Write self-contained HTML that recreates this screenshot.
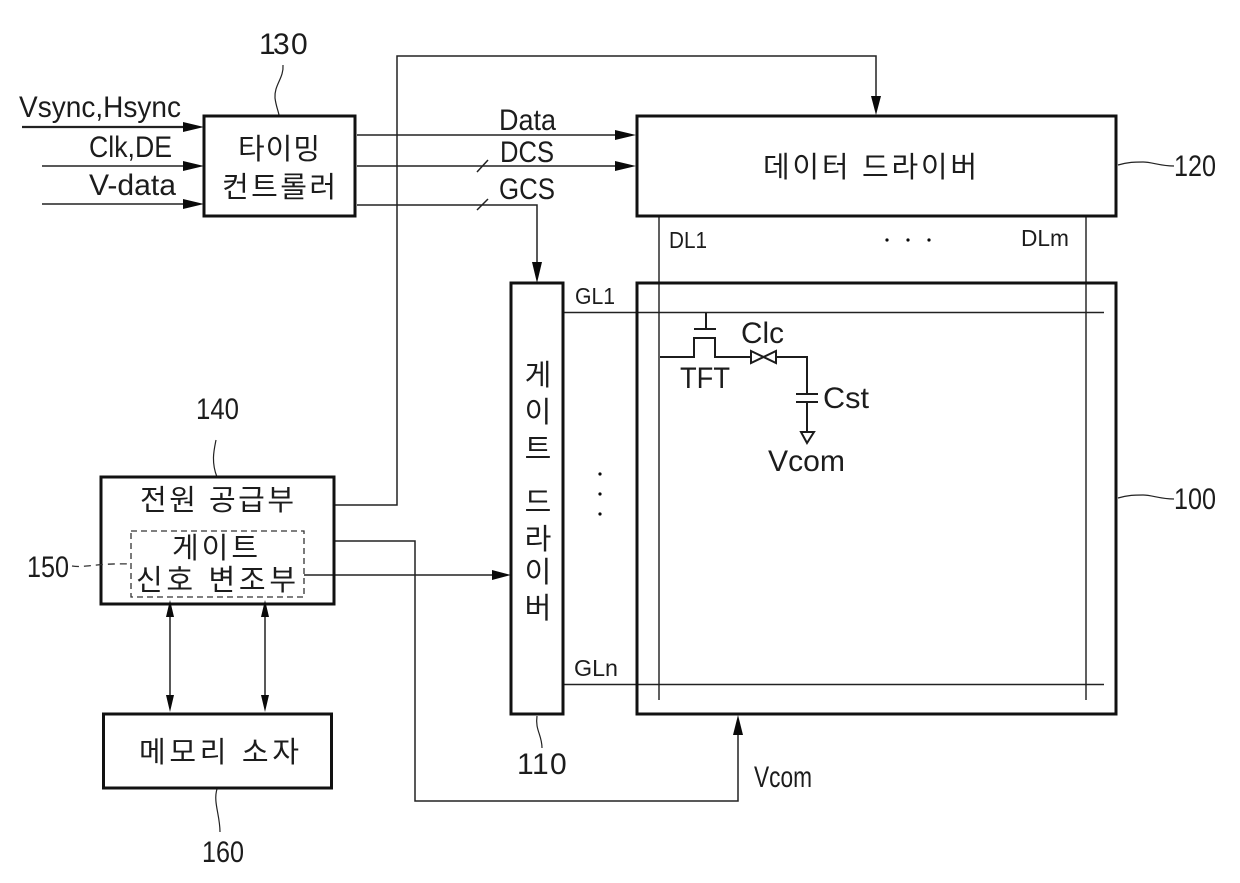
<!DOCTYPE html>
<html><head><meta charset="utf-8"><style>
html,body{margin:0;padding:0;background:#fff}
svg{display:block}
text{font-family:"Liberation Sans","Noto Sans CJK KR",sans-serif;fill:#1c1c1c}
.l{font-size:30px}.s{font-size:23px}.k{font-size:29px}
.c{text-anchor:middle}
</style></head><body>
<svg width="1240" height="883" viewBox="0 0 1240 883" xmlns="http://www.w3.org/2000/svg">
<rect width="1240" height="883" fill="#fff"/>
<g fill="none" stroke="#222" stroke-width="1.5">
<path d="M42 166H190M42 204H190"/>
<path d="M22 127H190" stroke-width="2.2"/>
<path d="M357 135H620M357 166H620M357 205H537V268"/>
<path d="M335 505H397V56H876V100"/>
<path d="M335 541H415V801H738V730"/>
<path d="M304 575H495"/>
<path d="M170 612V698M265 612V698"/>
<path d="M659 216V700M1086 216V700" stroke="#444" stroke-width="1.7"/>
<path d="M563 312.500H1104M563 684.500H1104"/>
<path d="M477 172L488 160M477 210L488 199"/>
<path d="M283 65C284 78 274 85 275 98C276 106 278 110 279 115" stroke-width="1.2"/>
<path d="M216 440C214 450 211 462 217 477" stroke-width="1.2"/>
<path d="M1118 165C1128 162 1135 162 1143 162C1152 162 1160 166 1174 166" stroke-width="1.2"/>
<path d="M1118 498C1128 495 1135 495 1143 495C1152 495 1160 499 1174 499" stroke-width="1.2"/>
<path d="M537 716C535 730 542 735 542 748" stroke-width="1.2"/>
<path d="M217 789C213 802 220 815 220 832" stroke-width="1.2"/>
</g>
<g fill="none" stroke="#111" stroke-width="3">
<rect x="204" y="116" width="151" height="100"/>
<rect x="637" y="116" width="479" height="100"/>
<rect x="511" y="283" width="52" height="431"/>
<rect x="637" y="283" width="479" height="431"/>
<rect x="101" y="477" width="233" height="127"/>
<rect x="103.500" y="714" width="228" height="74"/>
</g>
<g fill="#0a0a0a">
<path d="M204 127l-21-5v10zM204 166l-21-5v10zM204 204l-21-5v10z"/>
<path d="M636 135l-21-5v10zM636 166l-21-5v10z"/>
<path d="M537 283l-5-21h10zM876 115l-5-19h10zM511 575l-19-5v10zM738 715l-5 20h10z"/>
<path d="M170 600l-4 17h8zM170 712l-4-17h8zM265 600l-4 17h8zM265 712l-4-17h8z"/>
<circle cx="887" cy="240" r="1.600"/><circle cx="908" cy="240" r="1.600"/><circle cx="929" cy="240" r="1.600"/>
<circle cx="600" cy="474" r="1.600"/><circle cx="600" cy="494" r="1.600"/><circle cx="600" cy="514" r="1.600"/>
</g>
<rect x="131" y="531" width="173" height="66" fill="none" stroke="#333" stroke-width="1.300" stroke-dasharray="6 4"/>
<path d="M72 566C85 568 95 563 131 564" fill="none" stroke="#333" stroke-width="1.300" stroke-dasharray="7 5"/>
<g fill="none" stroke="#1c1c1c" stroke-width="2">
<path d="M660 357H694V338H715V357H751M776 357H807V394M807 402V431"/>
<path d="M694 329H716M706 329V313"/>
<path d="M751 351L776 363V351L751 363Z"/>
<path d="M796 394H818M796 402H818"/>
<path d="M801 432H814L807 443Z"/>
</g>
<text x="19" y="117" class="l" textLength="162" lengthAdjust="spacingAndGlyphs">Vsync,Hsync</text>
<text x="89" y="157" class="l" textLength="83" lengthAdjust="spacingAndGlyphs">Clk,DE</text>
<text x="89" y="195" class="l" textLength="87" lengthAdjust="spacingAndGlyphs">V-data</text>
<text x="259 273 291" y="54" class="l">130</text>
<text x="499" y="130" class="l" textLength="57" lengthAdjust="spacingAndGlyphs">Data</text>
<text x="500" y="162" class="l" textLength="54" lengthAdjust="spacingAndGlyphs">DCS</text>
<text x="499" y="199" class="l" textLength="56" lengthAdjust="spacingAndGlyphs">GCS</text>
<text x="1174" y="176" class="l" textLength="42" lengthAdjust="spacingAndGlyphs">120</text>
<text x="1174" y="509" class="l" textLength="42" lengthAdjust="spacingAndGlyphs">100</text>
<text x="196" y="419" class="l" textLength="43" lengthAdjust="spacingAndGlyphs">140</text>
<text x="27" y="577" class="l" textLength="42" lengthAdjust="spacingAndGlyphs">150</text>
<text x="517 532 550" y="774" class="l">110</text>
<text x="202" y="862" class="l" textLength="42" lengthAdjust="spacingAndGlyphs">160</text>
<text x="754" y="787" class="l" textLength="58" lengthAdjust="spacingAndGlyphs">Vcom</text>
<text x="741" y="343" class="l" textLength="43" lengthAdjust="spacingAndGlyphs">Clc</text>
<text x="680" y="388" class="l" textLength="50" lengthAdjust="spacingAndGlyphs">TFT</text>
<text x="823" y="408" class="l" textLength="46" lengthAdjust="spacingAndGlyphs">Cst</text>
<text x="768" y="471" class="l" textLength="77" lengthAdjust="spacingAndGlyphs">Vcom</text>
<text class="s" x="669" y="248" textLength="38" lengthAdjust="spacingAndGlyphs">DL1</text>
<text class="s" x="1021" y="246" textLength="48" lengthAdjust="spacingAndGlyphs">DLm</text>
<text class="s" x="575" y="304" textLength="40" lengthAdjust="spacingAndGlyphs">GL1</text>
<text class="s" x="574" y="676" textLength="44" lengthAdjust="spacingAndGlyphs">GLn</text>
<text class="k" x="238" y="159" textLength="82">타이밍</text>
<text class="k" x="222" y="197" textLength="114">컨트롤러</text>
<text class="k" x="763" y="177" textLength="214">데이터 드라이버</text>
<text class="k" x="140" y="510" textLength="154">전원 공급부</text>
<text class="k" x="172" y="558" textLength="86">게이트</text>
<text class="k" x="136" y="590" textLength="160">신호 변조부</text>
<text class="k" x="139" y="762" textLength="160">메모리 소자</text>
<text class="k c" x="538" y="385">게</text>
<text class="k c" x="538" y="422">이</text>
<text class="k c" x="538" y="459">트</text>
<text class="k c" x="538" y="512">드</text>
<text class="k c" x="538" y="549">라</text>
<text class="k c" x="538" y="582">이</text>
<text class="k c" x="538" y="618">버</text>
</svg>
</body></html>
